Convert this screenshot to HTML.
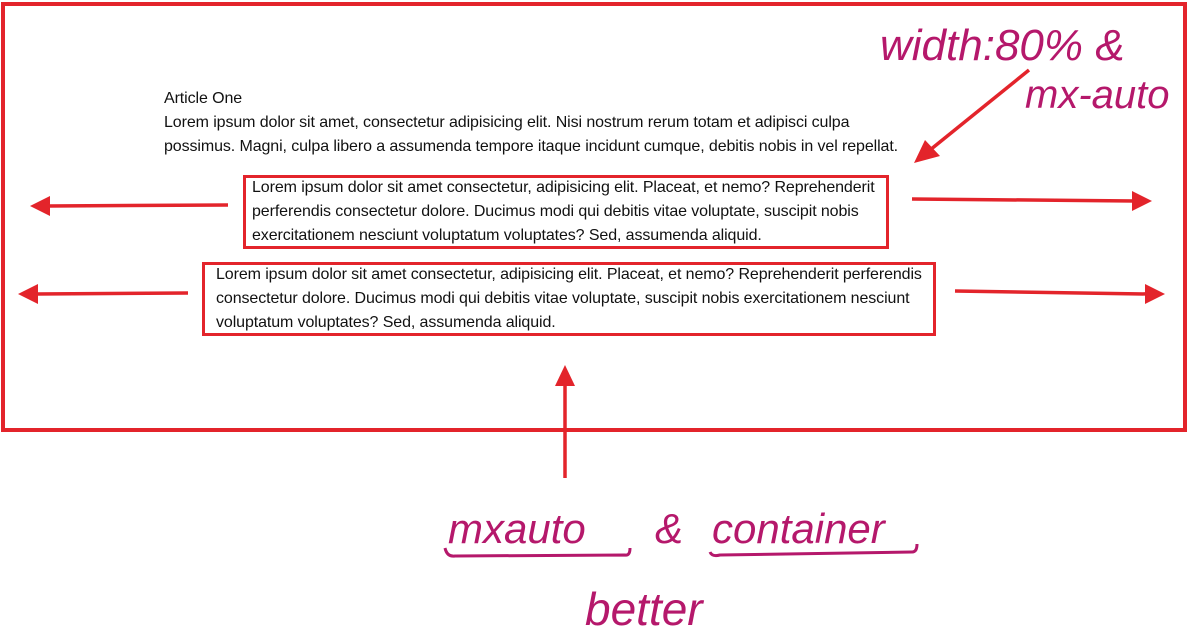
<!DOCTYPE html>
<html><head><style>
body{margin:0;width:1188px;height:633px;background:#fff;position:relative;overflow:hidden;font-family:"Liberation Sans",sans-serif;}
.t{position:absolute;font-size:16px;line-height:24px;color:#111;white-space:nowrap;letter-spacing:-0.1px;}
.box{position:absolute;border:3px solid #e3242b;box-sizing:border-box;}
</style></head><body>
<div class="box" style="left:1px;top:2px;width:1186px;height:430px;border-width:4px"></div>
<div class="t" style="left:164px;top:87px">Article One<br>Lorem ipsum dolor sit amet, consectetur adipisicing elit. Nisi nostrum rerum totam et adipisci culpa<br>possimus. Magni, culpa libero a assumenda tempore itaque incidunt cumque, debitis nobis in vel repellat.</div>
<div class="box" style="left:243px;top:175px;width:646px;height:74px"></div>
<div class="t" style="left:252px;top:176px">Lorem ipsum dolor sit amet consectetur, adipisicing elit. Placeat, et nemo? Reprehenderit<br>perferendis consectetur dolore. Ducimus modi qui debitis vitae voluptate, suscipit nobis<br>exercitationem nesciunt voluptatum voluptates? Sed, assumenda aliquid.</div>
<div class="box" style="left:202px;top:262px;width:734px;height:74px"></div>
<div class="t" style="left:216px;top:263px">Lorem ipsum dolor sit amet consectetur, adipisicing elit. Placeat, et nemo? Reprehenderit perferendis<br>consectetur dolore. Ducimus modi qui debitis vitae voluptate, suscipit nobis exercitationem nesciunt<br>voluptatum voluptates? Sed, assumenda aliquid.</div>
<svg width="1188" height="633" style="position:absolute;left:0;top:0">
<g stroke="#e3242b" stroke-width="3.5" fill="#e3242b">
<line x1="228" y1="205" x2="48" y2="206"/><polygon points="30,206 50,196 50,216" stroke="none"/>
<line x1="188" y1="293" x2="36" y2="294"/><polygon points="18,294 38,284 38,304" stroke="none"/>
<line x1="912" y1="199" x2="1135" y2="201"/><polygon points="1152,201 1132,191 1132,211" stroke="none"/>
<line x1="955" y1="291" x2="1148" y2="294"/><polygon points="1165,294 1145,284 1145,304" stroke="none"/>
<line x1="1029" y1="70" x2="930" y2="150"/><polygon points="914,163 925,140 940,156" stroke="none"/>
<line x1="565" y1="478" x2="565" y2="385"/><polygon points="565,365 555,386 575,386" stroke="none"/>
</g>
<g fill="#b5186b" font-family="Liberation Sans, sans-serif">
<text x="880" y="60" font-size="44" font-style="italic">width:80%  &amp;</text>
<text x="1025" y="108" font-size="40" font-style="italic">mx-auto</text>
<text x="448" y="543" font-size="42" font-style="italic">mxauto</text>
<text x="655" y="543" font-size="42" font-style="italic">&amp;</text>
<text x="712" y="543" font-size="42" font-style="italic">container</text>
<text x="585" y="625" font-size="46" font-style="italic">better</text>
</g>
<g stroke="#b5186b" stroke-width="3" fill="none">
<path d="M445 548 Q447 557 455 556 L625 555 Q630 556 630 548"/>
<path d="M710 552 Q712 557 720 555 L912 552 Q917 552 917 544"/>
</g>
</svg>
</body></html>
